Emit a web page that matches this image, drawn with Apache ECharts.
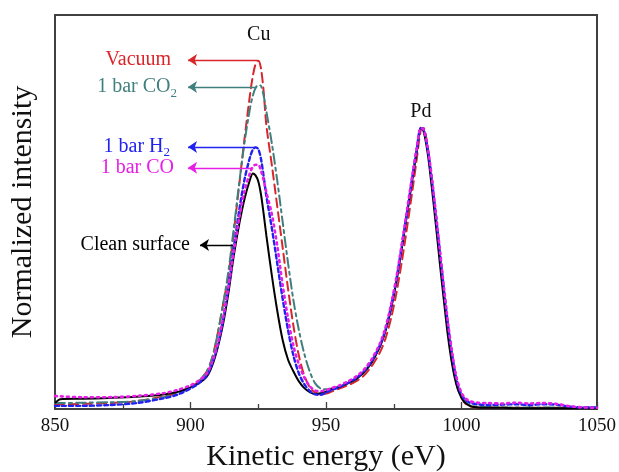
<!DOCTYPE html>
<html><head><meta charset="utf-8">
<script src="https://cdn.jsdelivr.net/npm/echarts@6/dist/echarts.min.js"></script>
<style>html,body{margin:0;padding:0;background:#fff}#c{width:619px;height:472px}</style>
</head><body><div id="c"></div>
<script>
const energy = [850,852,860,870,880,890,895,900,903,906,908,910,
  912,914,916,918,920,922,923,924,925,926,927,928,
  930,932,934,936,938,940,942,944,946,948,950,952,
  955,958,961,964,967,970,972,974,976,978,980,982,
  983.5,985,986,987.5,989,990.5,992,993.5,995,996.5,998,999.5,
  1001,1003,1006,1010,1015,1020,1025,1030,1035,1040,1045,1050];
const cleanSurface = [1.5,2.5,2.6,2.8,3.1,3.7,4.3,5.5,6.5,8.2,11,15.5,
  21.5,29.5,39,47,53.5,58.3,59.8,59.3,57.8,54.5,49.5,44,
  34,25,17.5,12.5,9.5,7,5.3,4.3,3.8,4,4.4,5,
  5.6,6.5,7.6,9.3,12,16,20,25.5,32.5,41,50,59,
  65.5,71.4,70.5,65,56.5,47,37,27.5,18.5,11.5,6.5,3.5,
  1.8,0.8,0.4,0.3,0.3,0.2,0.2,0.2,0.2,0.2,0.2,0.2];
const vacuum = [1.2,1.2,1.3,1.5,2,3.2,4,5.5,7,9.5,13,19,
  26.5,34,45,57,69,80,84.5,87.5,88.4,86.5,80.5,72,
  62,51.5,41,30.5,21,13.5,8.5,5.5,4.2,3.7,3.9,4.4,
  5.2,6,7,8.5,11,14.5,18,23,29.5,37.5,46.5,56,
  63.5,70.8,71.3,66.5,58,48.5,38.5,29,19.5,12,6.8,3.5,
  1.7,0.7,0.4,0.4,0.3,0.3,0.3,0.3,0.3,0.3,0.3,0.3];
const co2 = [1.5,1.5,1.6,1.7,2,3,3.8,5.5,7,9.6,13,19,
  26.5,35,46,57.5,68,76.5,79.5,81.5,82.2,82,79.5,75.5,
  67.5,58,47.5,37,27.5,20,14,9.5,6.5,5.2,5,5.2,
  5.7,6.5,7.6,9.3,12,16,20,25.5,32.5,41,50,59,
  65.5,71.4,71,66,58,49,39.5,30,21,13.5,7.5,4,
  2,1,0.6,0.5,0.4,0.4,0.4,0.4,0.4,0.4,0.4,0.4];
const h2 = [0.8,0.8,0.8,1,1.5,2.7,3.6,5.2,6.5,8.5,11.5,16,
  22.5,31,41,50.5,58.5,64,65.8,66.4,66,63.5,59,54,
  46,37,28,20,13.5,9,6.3,4.6,3.7,3.6,4.2,4.8,
  5.6,6.6,7.8,9.6,12.3,16.3,20.3,26,33,41.5,50.5,59.5,
  66,71.3,71,66.3,58.5,49.5,40,30.5,21.5,14,8,4.5,
  2.6,1.6,1.2,1,1.1,1.2,1,1.2,1.1,0.6,0.4,0.4];
const co = [3.3,3.2,3,3,3.3,4,4.8,6,7.2,9,12,16.5,
  23,31,40,48.5,55.5,60,61.5,62,62,60.5,58,55,
  49.5,41.5,31.5,23,16,11.3,8,5.8,4.7,4.5,4.8,5.3,
  6,7,8.2,10,12.8,16.8,20.8,26.5,33.5,42,51,60,
  66.3,71.3,71,66.5,59,50,40.5,31,22,14.5,8.5,5,
  3,2,1.6,1.5,1.4,1.6,1.4,1.5,1.3,0.7,0.4,0.3];

// annotations (data coordinates)
const arrowLabels = ['Vacuum', '1 bar CO{s|2}', '1 bar H{s|2}', '1 bar CO', 'Clean surface'];
const arrowTail = [924.9, 924.5, 924.2, 923.1, 915.7];
const arrowHead = [899.1, 899.1, 899.1, 899.1, 903.5];
const arrowLevel = [88.6, 81.7, 66.5, 61.2, 41.6];
const peakNames = ['Cu', 'Pd'];
const peakE = [925.2, 985.0];
const peakI = [94.9, 75.5];

const FONT = 'Liberation Serif';
const seriesDefs = [
  {name:'Vacuum', data:vacuum, color:'#d9262b', type:[9,5], width:2, ai:0, dist:17},
  {name:'1 bar CO2', data:co2, color:'#3f7f7d', type:[10,4,3,4], width:2, ai:1, dist:11},
  {name:'Clean surface', data:cleanSurface, color:'#000000', type:'solid', width:2, ai:4, dist:10},
  {name:'1 bar H2', data:h2, color:'#2222f0', type:[4,3], width:2.4, ai:2, dist:18},
  {name:'1 bar CO', data:co, color:'#e61ee6', type:[2,4], width:2.6, ai:3, dist:14}
];

const series = seriesDefs.map(d => {
  const i = d.ai;
  const s = {
    type:'line', name:d.name, showSymbol:false, smooth:0.3,
    data: energy.map((e,k)=>[e, d.data[k]]),
    lineStyle:{color:d.color, width:d.width, type:d.type, cap: d.type==='solid'?'butt':'round'},
    markLine:{
      silent:true, animation:false,
      symbol:['none','arrow'], symbolSize:9,
      lineStyle:{color:d.color, type:'solid', width:1.3},
      label:{show:true, position:'end', distance:d.dist, formatter:arrowLabels[i],
        color:d.color, fontFamily:FONT, fontSize:20, lineHeight:25,
        rich:{s:{fontFamily:FONT, fontSize:13, lineHeight:13, color:d.color, padding:[12,0,0,0]}}},
      data:[[{coord:[arrowTail[i], arrowLevel[i]]},{coord:[arrowHead[i], arrowLevel[i]]}]]
    }
  };
  if (d.name === 'Clean surface') {
    s.markPoint = {
      silent:true, symbol:'circle', symbolSize:0,
      label:{show:true, position:'inside', formatter:'{b}', color:'#111', fontFamily:FONT, fontSize:20},
      data: peakNames.map((n,k)=>({name:n, coord:[peakE[k], peakI[k]]}))
    };
  }
  return s;
});

const chart = echarts.init(document.getElementById('c'));
chart.setOption({
  animation:false,
  backgroundColor:'#fff',
  grid:{left:55, right:22, top:15, bottom:63, show:true, borderColor:'#404040', borderWidth:2,
    containLabel:false, outerBoundsMode:'none'},
  xAxis:{type:'value', min:850, max:1050, interval:50,
    name:'Kinetic energy (eV)', nameLocation:'middle', nameGap:33,
    nameTextStyle:{fontFamily:FONT, fontSize:30, color:'#111'},
    axisLine:{show:true, lineStyle:{color:'#404040', width:2}},
    axisTick:{show:true, inside:true, length:7, lineStyle:{color:'#404040', width:1.3}},
    minorTick:{show:true, splitNumber:2, length:5, lineStyle:{color:'#404040', width:1.3}},
    axisLabel:{fontFamily:FONT, fontSize:19, color:'#111', margin:8, formatter:v=>String(v)},
    splitLine:{show:false}},
  yAxis:{type:'value', min:0, max:100,
    name:'Normalized intensity', nameLocation:'middle', nameGap:17,
    nameTextStyle:{fontFamily:FONT, fontSize:30, color:'#111'},
    axisLine:{show:true, lineStyle:{color:'#404040', width:2}},
    axisTick:{show:false}, axisLabel:{show:false}, splitLine:{show:false}},
  series: series
});
</script></body></html>
